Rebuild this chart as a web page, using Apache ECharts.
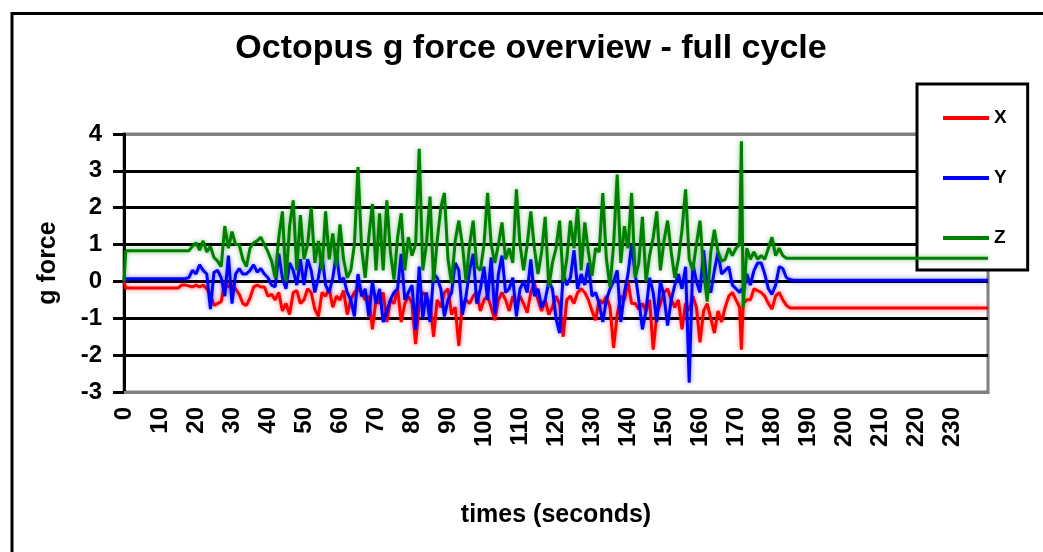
<!DOCTYPE html>
<html>
<head>
<meta charset="utf-8">
<script src="https://cdn.jsdelivr.net/npm/echarts@6/dist/echarts.min.js"></script>
<style>html,body{margin:0;padding:0;background:#fff}#c{width:1043px;height:552px}</style>
</head>
<body>
<div id="c"></div>
<script>
// time in seconds
const times = [
  0, 0.5, 15,
  16, 17, 18, 19, 20, 21, 22, 23, 24, 25,
  26, 27, 28, 29, 30, 31, 32, 33, 34, 35,
  36, 37, 38, 39, 40, 41, 42, 43, 44, 45,
  46, 47, 48, 49, 50, 51, 52, 53, 54, 55,
  56, 57, 58, 59, 60, 61, 62, 63, 64, 65,
  66, 67, 68, 69, 70, 71, 72, 73, 74, 75,
  76, 77, 78, 79, 80, 81, 82, 83, 84, 85,
  86, 87, 88, 89, 90, 91, 92, 93, 94, 95,
  96, 97, 98, 99, 100, 101, 102, 103, 104, 105,
  106, 107, 108, 109, 110, 111, 112, 113, 114, 115,
  116, 117, 118, 119, 120, 121, 122, 123, 124, 125,
  126, 127, 128, 129, 130, 131, 132, 133, 134, 135,
  136, 137, 138, 139, 140, 141, 142, 143, 144, 145,
  146, 147, 148, 149, 150, 151, 152, 153, 154, 155,
  156, 157, 158, 159, 160, 161, 162, 163, 164, 165,
  166, 167, 168, 169, 170, 171, 171.5, 172, 173, 174, 175,
  176, 177, 178, 179, 180, 181, 182, 183, 184, 185,
  186, 240
];
const xValues = [
  0, -0.18, -0.18,
  -0.1, -0.1, -0.12, -0.15, -0.1, -0.15, -0.1, -0.2, -0.35, -0.65,
  -0.6, -0.55, 0.0, -0.15, -0.1, -0.2, -0.35, -0.6, -0.65, -0.45,
  -0.15, -0.1, -0.15, -0.15, -0.4, -0.35, -0.5, -0.3, -0.8, -0.6,
  -0.9, -0.3, -0.25, -0.6, -0.5, -0.2, -0.3, -0.75, -0.95, -0.3,
  -0.4, -0.2, -0.7, -0.4, -0.5, -0.25, -0.9, -0.5, -0.3, -0.2,
  -0.3, -0.5, -0.4, -1.3, -0.5, -0.6, -0.3, -1.1, -0.5, -0.6,
  -0.2, -1.1, -0.6, -0.4, -0.6, -1.7, -0.6, -0.3, -0.4, -0.6,
  -1.5, -0.5, -0.7, -0.3, -0.2, -0.9, -0.7, -1.75, -0.6, -0.5,
  -0.6, -0.4, -0.3, -0.8, -0.5, -0.4, -0.7, -1.05, -0.5, -0.3,
  -0.5, -0.8, -0.4, -0.6, -0.4, -0.6, -0.85, -0.3, -0.05, -0.5,
  -0.8, -0.5, -0.9, -0.7, -0.4, -0.6, -1.5, -0.5, -0.4, -0.6,
  -0.3, -0.2, -0.3, -0.5, -0.8, -1.05, -0.5, -0.6, -0.4, -0.7,
  -1.8, -0.9, -0.4, -0.5, 0.0, -0.6, -0.6, -0.75, -0.6, -0.8,
  -0.5, -1.85, -0.9, -0.6, -0.3, -0.2, -0.5, -0.7, -0.5, -1.3,
  -0.6, -0.8, -0.4, -0.7, -1.65, -0.8, -0.6, -1.0, -1.4, -0.8,
  -1.1, -0.7, -0.4, -0.3, -0.5, -0.7, -1.85, -0.6, -0.5, -0.5, -0.2,
  -0.25, -0.3, -0.4, -0.6, -0.75, -0.4, -0.3, -0.5, -0.65, -0.72,
  -0.72, -0.72
];
const yValues = [
  0, 0.07, 0.07,
  0.07, 0.08, 0.1, 0.3, 0.2, 0.45, 0.3, 0.2, -0.75, 0.25,
  0.3, 0.1, -0.4, 0.7, -0.6, 0.2, 0.35, 0.2, 0.2, 0.3,
  0.45, 0.25, 0.35, 0.2, 0.1, -0.1, -0.15, 0.75, 0.1, -0.2,
  0.5, 0.3, -0.1, 0.6, -0.1, 0.6, 0.3, -0.3, 0.1, 0.7,
  -0.1, -0.3, 0.1, 0.75, 0.0, 0.1, -0.3, -0.5, -0.95, 0.2,
  -0.4, -0.2, -0.95, 0.0, -0.6, -0.2, -1.1, -0.8, -0.5, -0.3,
  -0.2, 0.75, -0.5, -0.3, -0.1, -1.3, 0.4, -1.0, -0.3, -1.1,
  0.2, 0.1, -0.2, -0.95, -0.5, -0.3, 0.5, 0.3, -0.9, -0.4,
  0.3, 0.75, -0.6, -0.2, 0.4, -0.5, 0.65, -0.9, 0.2, 0.7,
  -0.3, -0.2, 0.1, -0.95, -0.2, 0.0, -0.3, 0.6, -0.4, -0.2,
  -0.7, -0.5, 0.0, -0.2, -1.0, -1.4, 0.2, -0.1, 0.1, 0.85,
  -0.2, 0.2, -0.1, 0.5, -0.4, -0.3, -0.6, -1.1, -0.5, -0.2,
  0.0, 0.3, -1.1, -0.3, 0.2, 1.0, 0.2, -0.5, -1.3, -0.8,
  0.1, -0.3, -1.1, 0.0, -0.4, -1.2, -0.5, -0.1, 0.2, -0.2,
  0.4, -2.75, 0.5, 0.0, -0.3, 0.85, -0.1, -0.3, 0.3, 0.8,
  0.2, 0.3, 0.4, -0.1, -0.2, -0.3, -0.2, -0.3, 0.2, -0.1, 0.3,
  0.5, 0.5, 0.2, -0.2, -0.35, -0.1, 0.4, 0.35, 0.1, 0.05,
  0.03, 0.03
];
const zValues = [
  0, 0.83, 0.83,
  0.83, 0.83, 0.83, 0.95, 1.05, 0.85, 1.1, 0.8, 0.95, 0.65,
  0.55, 0.4, 1.5, 0.9, 1.35, 1.0, 1.0, 0.6, 0.4, 0.9,
  1.05, 1.1, 1.2, 1.0, 0.8, 0.55, 0.1, 1.2, 1.9, 0.0,
  1.5, 2.2, 0.3, 1.8, 0.6, 1.0, 2.0, 0.5, 1.1, 0.3,
  1.9, 0.6, 1.3, 0.4, 1.55, 0.6, 0.1, 0.3, 1.0, 3.1,
  0.9, 0.1, 1.2, 2.1, 0.3, 1.85, 0.3, 2.2, 0.8, 0.05,
  1.2, 1.85, 0.3, 1.2, 0.7, 1.0, 3.6, 0.3, 1.0, 2.3,
  0.0, 1.1, 2.0, 2.4, 0.6, -0.05, 1.1, 1.65, 1.0, 0.0,
  1.0, 1.65, 0.4, 0.3, 1.0, 2.4, 1.0, 0.5, 1.0, 1.6,
  0.6, 0.9, 0.5, 2.5, 1.0, 0.3, 1.0, 1.9, 0.9, 0.2,
  0.8, 1.75, -0.15, 0.5, 0.9, 1.65, 0.0, 0.6, 1.65, 0.9,
  2.0, 0.3, 1.6, 0.8, 0.15, 0.9, 0.8, 2.4, 0.6, -0.15,
  1.0, 2.9, 0.5, 1.5, 0.9, 2.4, 0.1, 0.5, 1.75, 0.0,
  0.7, 1.2, 1.9, 0.3, 1.1, 1.65, 0.8, 0.1, 0.6, 1.4,
  2.5, 0.6, 0.3, 1.0, 1.65, 0.3, -0.55, 0.8, 1.4, 0.8,
  0.55, 0.6, 0.9, 0.7, 0.9, 1.0, 3.8, -0.7, 0.9, 0.6, 0.8,
  0.6, 0.7, 0.6, 0.9, 1.2, 0.7, 0.9, 0.7, 0.63, 0.63,
  0.63, 0.63
];
const seriesNames = ['X', 'Y', 'Z'];
const seriesColors = ['#ff0000', '#0000ff', '#008000'];
const haloColors = ['rgba(255,0,0,0.55)', 'rgba(0,0,255,0.5)', 'rgba(0,128,0,0.5)'];
const yTicks = [-3, -2, -1, 0, 1, 2, 3, 4];

const FONT = "'Liberation Sans', Arial, sans-serif";
const pair = vals => times.map((t, i) => [t, vals[i]]);
const allVals = [xValues, yValues, zValues];

const chart = echarts.init(document.getElementById('c'), null, {renderer: 'canvas'});
chart.setOption({
  animation: false,
  backgroundColor: '#fff',
  textStyle: {fontFamily: FONT, color: '#000'},
  graphic: [{
    type: 'rect', z: -10, silent: true,
    shape: {x: 12, y: 13.5, width: 1200, height: 800},
    style: {fill: 'none', stroke: '#000', lineWidth: 3}
  }],
  title: {
    text: 'Octopus g force overview - full cycle',
    left: 531, top: 32, padding: 0, textAlign: 'center',
    textStyle: {fontFamily: FONT, fontSize: 34, fontWeight: 'bold', color: '#000'}
  },
  legend: {
    orient: 'vertical',
    left: 917, top: 84,
    padding: [24, 21, 22, 26],
    itemGap: 40,
    itemWidth: 46, itemHeight: 4,
    icon: 'rect',
    backgroundColor: '#fff',
    borderColor: '#000', borderWidth: 3,
    textStyle: {fontFamily: FONT, fontSize: 19, fontWeight: 'bold', color: '#000', lineHeight: 20},
    data: seriesNames
  },
  grid: {
    left: 124, top: 134, right: 55, bottom: 160,
    show: true, borderColor: '#808080', borderWidth: 3, backgroundColor: '#fff'
  },
  xAxis: {
    type: 'value', min: 0, max: 240, interval: 10,
    name: 'times (seconds)', nameLocation: 'middle', nameGap: 111,
    nameTextStyle: {fontFamily: FONT, fontSize: 25, fontWeight: 'bold', color: '#000'},
    axisLine: {show: true, onZero: false, lineStyle: {color: '#808080', width: 3}},
    axisTick: {show: false},
    splitLine: {show: false},
    axisLabel: {
      rotate: 90, margin: 15,
      fontFamily: FONT, fontSize: 24, fontWeight: 'bold', color: '#000',
      formatter: v => (v >= 240 ? '' : String(v))
    }
  },
  yAxis: {
    type: 'value', min: yTicks[0], max: yTicks[yTicks.length - 1], interval: 1,
    name: 'g force', nameLocation: 'middle', nameGap: 63,
    nameTextStyle: {fontFamily: FONT, fontSize: 25, fontWeight: 'bold', color: '#000'},
    axisLine: {show: true, lineStyle: {color: '#000', width: 3}},
    axisTick: {show: true, length: 11, lineStyle: {color: '#000', width: 3}},
    splitLine: {show: true, lineStyle: {color: ['#808080', '#000', '#000', '#000', '#000', '#000', '#000', '#808080'], width: 3}},
    axisLabel: {margin: 22, fontFamily: FONT, fontSize: 24, fontWeight: 'bold', color: '#000'}
  },
  series: seriesNames.map((n, k) => ({
    name: n, type: 'line', data: pair(allVals[k]),
    symbol: 'none', showSymbol: false,
    color: seriesColors[k],
    lineStyle: {color: seriesColors[k], width: 3, shadowBlur: 5, shadowColor: haloColors[k]},
    z: 2 + k
  }))
});
</script>
</body>
</html>
